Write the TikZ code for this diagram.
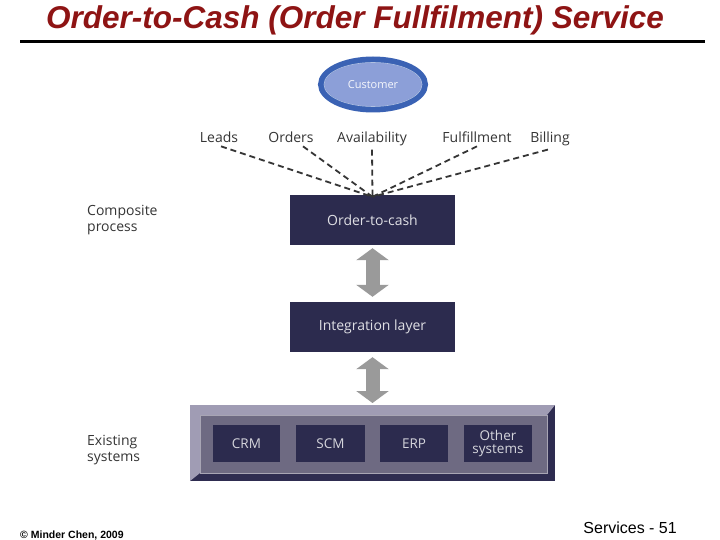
\documentclass[tikz,border=0pt]{standalone}
\usepackage{fontspec}
\setmainfont{Liberation Sans}
\newfontfamily\diagfont{Open Sans}
\usepackage{xcolor}
\usetikzlibrary{arrows.meta,shapes.geometric}
\definecolor{titlered}{HTML}{8E1414}
\definecolor{navybox}{HTML}{2C2B4E}
\definecolor{ringblue}{HTML}{3A62B4}
\definecolor{custfill}{HTML}{8C9FD8}
\definecolor{labelgrey}{HTML}{353535}
\definecolor{arrowgrey}{HTML}{9A9A9A}
\definecolor{panelface}{HTML}{6E6A82}
\definecolor{panellight}{HTML}{A09CB4}
\definecolor{paneldark}{HTML}{2E2C50}
\tikzset{
    dark-box/.style = {fill=navybox, draw=none, rectangle, minimum width=165pt, minimum height=50pt, text=white!85!navybox, font=\diagfont\fontsize{14}{15}\selectfont},
    system-box/.style = {fill=navybox, draw=none, rectangle, minimum height=37pt, text=white!80!navybox, align=center, font=\diagfont\fontsize{13.5}{13.5}\selectfont},
    flow-label/.style = {text=labelgrey, inner sep=1pt, anchor=base, font=\diagfont\fontsize{14}{15}\selectfont},
    side-label/.style = {text=labelgrey, align=left, anchor=west, inner sep=0pt, font=\diagfont\fontsize{14}{16}\selectfont},
    flow-line/.style = {draw=labelgrey, line width=1.8pt, dash pattern=on 6pt off 4pt},
    grey-arrow/.style = {draw=arrowgrey, line width=14pt, {Triangle[length=12pt,width=32pt]}-{Triangle[length=12pt,width=32pt]}},
}

\begin{document}
\begin{tikzpicture}[x=1pt,y=-1pt]
\useasboundingbox[fill=white] (0,0) rectangle (720,540);

% title and rule
\node[text=titlered, font=\bfseries\itshape\fontsize{31.5}{34}\selectfont] (title) at (355,20) {Order-to-Cash (Order Fullfilment) Service};
\draw[line width=3pt] (20,42) -- (705,42);

% customer
\node[ellipse, draw=ringblue, line width=6pt, fill=custfill, minimum width=104pt, minimum height=50pt, text=white!92!custfill, font=\diagfont\fontsize{11}{12}\selectfont] (customer) at (373,84.5) {Customer};
\draw[white!60!ringblue, line width=0.6pt] (373,84.5) ellipse (49pt and 22pt);

% services
\node[flow-label] (leads) at (219,143) {Leads};
\node[flow-label] (orders) at (291,143) {Orders};
\node[flow-label] (avail) at (372,143) {Availability};
\node[flow-label] (fulfil) at (477,143) {Fulfillment};
\node[flow-label] (billing) at (550,143) {Billing};

\node[dark-box] (o2c) at (372.5,220) {Order-to-cash};
\node[dark-box] (integ) at (372.5,327) {Integration layer};

\foreach \src/\dx in {leads/2, orders/12, avail/0, fulfil/0, billing/-2}
    \draw[flow-line] ([xshift=\dx pt,yshift=-2pt]\src.south) -- ([yshift=-2pt]o2c.north);

\node[side-label] (composite) at (87,220) {Composite\\process};

% existing systems panel
\coordinate (pnw) at (190,405);
\coordinate (pse) at (555,481);
\fill[paneldark] (pnw) rectangle (pse);
\fill[panellight] (190,405) -- (555,405) -- (547,415) -- (200,415) -- (200,473) -- (190,481) -- cycle;
\fill[panelface] (200,415) rectangle (547,473);
\draw[white!40!panelface, line width=0.6pt] (200,415) rectangle (547,473);

\node[system-box, minimum width=67pt] (crm) at (246.5,443.5) {CRM};
\node[system-box, minimum width=69pt] (scm) at (330.5,443.5) {SCM};
\node[system-box, minimum width=68pt] (erp) at (414,443.5) {ERP};
\node[system-box, minimum width=68pt] (other) at (498,443.5) {Other\\systems};

\node[side-label] (existing) at (87,450) {Existing\\systems};

% links between layers
\draw[grey-arrow, shorten <=3pt, shorten >=5pt] (o2c.south) -- (integ.north);
\draw[grey-arrow, shorten <=5pt, shorten >=2pt] (integ.south) -- (372.5,405);

% footer
\node[anchor=base west, inner sep=0pt, font=\bfseries\fontsize{10.5}{12}\selectfont] (copy) at (20,538) {\textcopyright{} Minder Chen, 2009};
\node[anchor=base east, inner sep=0pt, font=\fontsize{16}{18}\selectfont] (page) at (677,533) {Services - 51};
\end{tikzpicture}
\end{document}
